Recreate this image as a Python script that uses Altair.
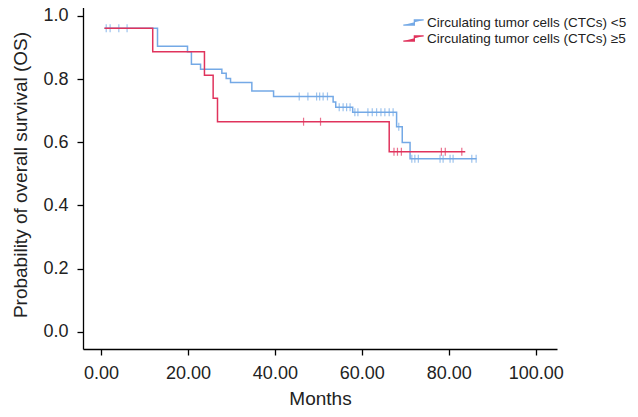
import altair as alt
import pandas as pd

# ---- data ----
groups = ["Circulating tumor cells (CTCs) <5", "Circulating tumor cells (CTCs) \u22655"]
colors = ["#74a9e6", "#e0335c"]

blue_t = [0.8, 13.0, 19.9, 20.8, 22.9, 27.8, 28.8, 29.8, 34.7, 39.7, 53.4, 54.0, 57.9, 68.0, 69.3, 71.1, 86.4]
blue_s = [0.961, 0.904, 0.886, 0.847, 0.831, 0.818, 0.802, 0.789, 0.762, 0.745, 0.727, 0.711, 0.695, 0.649, 0.599, 0.548, 0.548]

red_t = [0.8, 11.9, 23.8, 25.8, 26.8, 66.3, 83.8]
red_s = [0.961, 0.886, 0.812, 0.739, 0.665, 0.570, 0.570]

blue_cens_t = [1.2, 2.1, 4.1, 6.0,
               45.6, 47.6, 49.6, 50.3, 51.1, 52.1,
               54.8, 55.7, 56.5, 57.3,
               58.4, 59.1, 61.4, 62.4, 63.4, 64.4, 65.3, 66.3, 67.2,
               68.5,
               71.5, 72.2, 73.0, 78.0, 78.7, 80.3, 81.0, 85.3, 86.3]
blue_cens_s = [0.961, 0.961, 0.961, 0.961,
               0.745, 0.745, 0.745, 0.745, 0.745, 0.745,
               0.711, 0.711, 0.711, 0.711,
               0.695, 0.695, 0.695, 0.695, 0.695, 0.695, 0.695, 0.695, 0.695,
               0.649,
               0.548, 0.548, 0.548, 0.548, 0.548, 0.548, 0.548, 0.548, 0.548]

red_cens_t = [46.6, 50.5, 67.4, 68.2, 69.1, 78.3, 79.2, 83.0]
red_cens_s = [0.665, 0.665, 0.570, 0.570, 0.570, 0.570, 0.570, 0.570]

x_ticks = [0, 20, 40, 60, 80, 100]
y_ticks = [0.0, 0.2, 0.4, 0.6, 0.8, 1.0]

# ---- tables ----
curve = pd.concat([
    pd.DataFrame({"t": blue_t, "s": blue_s, "g": groups[0], "o": 0}),
    pd.DataFrame({"t": red_t, "s": red_s, "g": groups[1], "o": 1}),
])
cens = pd.concat([
    pd.DataFrame({"t": blue_cens_t, "s": blue_cens_s, "g": groups[0], "o": 0}),
    pd.DataFrame({"t": red_cens_t, "s": red_cens_s, "g": groups[1], "o": 1}),
])

FONT = "Liberation Sans"

x = alt.X("t:Q", scale=alt.Scale(domain=[-4.14, 104.9], nice=False, zero=False),
          axis=alt.Axis(title="Months", values=x_ticks, format=".2f"))
y = alt.Y("s:Q", scale=alt.Scale(domain=[-0.054, 1.05], nice=False, zero=False),
          axis=alt.Axis(title="Probability of overall survival (OS)", values=y_ticks, format=".1f"))
color = alt.Color("g:N", scale=alt.Scale(domain=groups, range=colors),
                  legend=alt.Legend(
                      title=None, orient="none", legendX=321, legendY=13,
                      symbolType="M-1.2,0.3H0.1V-0.3H1.2",
                      symbolSize=289, symbolStrokeWidth=1.3, symbolFillColor="#ffffff",
                      symbolOpacity=1,
                      labelFont=FONT, labelFontSize=13.5, labelColor="#222222",
                      labelOffset=4, rowPadding=0, padding=0, labelLimit=400))

lines = alt.Chart(curve).mark_line(interpolate="step-after", strokeWidth=1.5).encode(
    x=x, y=y, color=color, detail="g:N", order="t:Q"
)
ticks = alt.Chart(cens).mark_tick(orient="vertical", size=8, thickness=1.2).encode(
    x=x, y=y, color=alt.Color("g:N", scale=alt.Scale(domain=groups, range=colors), legend=None)
)

blue_layer = lines.transform_filter(alt.datum.o == 0)
red_layer = lines.transform_filter(alt.datum.o == 1)

chart = alt.layer(blue_layer, ticks.transform_filter(alt.datum.o == 0), red_layer,
                  ticks.transform_filter(alt.datum.o == 1)).properties(
    width=474, height=349,
    autosize="none",
    padding={"left": 75, "top": -8, "right": 73, "bottom": 60},
).configure_view(stroke=None).configure_axis(
    grid=False, domainColor="#000000", domainWidth=1.3, tickColor="#000000", tickWidth=1.3,
    tickSize=6, labelFont=FONT, labelFontSize=18, labelColor="#222222", labelPadding=9,
    titleFont=FONT, titleFontSize=19, titleFontWeight="normal", titleColor="#222222",
).configure_axisX(titlePadding=7).configure_axisY(titlePadding=12)

chart.save("out.html", embed_options={"renderer": "svg", "actions": False})
